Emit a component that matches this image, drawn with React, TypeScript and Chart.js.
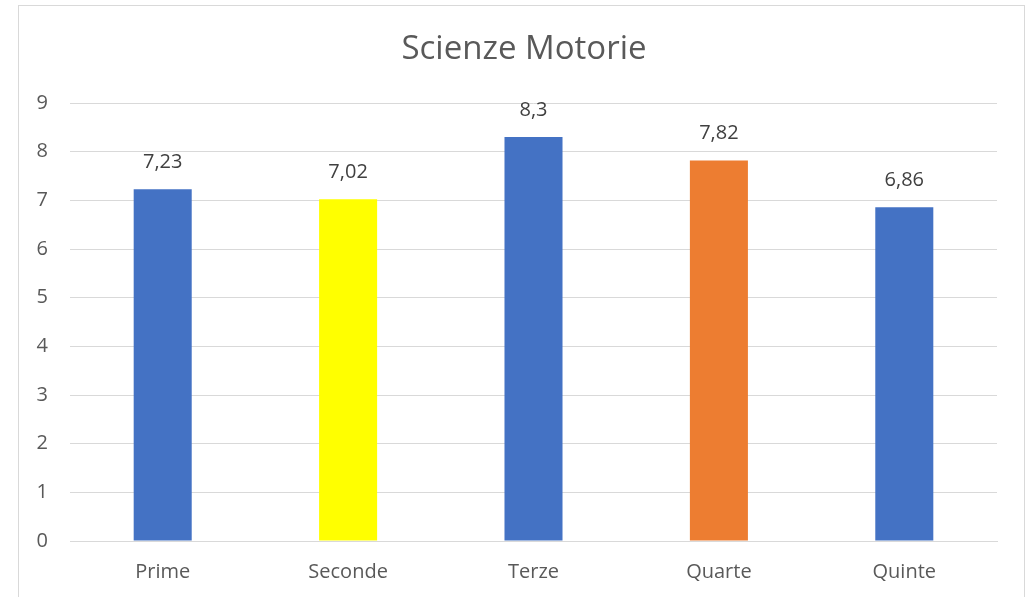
import React, { useEffect, useRef } from "react";
import { Chart, registerables } from "chart.js";

Chart.register(...registerables);

const categories = ["Prime", "Seconde", "Terze", "Quarte", "Quinte"];
const values = [7.23, 7.02, 8.3, 7.82, 6.86];
const barColors = ["#4472C4", "#FFFF00", "#4472C4", "#ED7D31", "#4472C4"];
const titleText = "Scienze Motorie";
const FONT = "'Open Sans', sans-serif";

const dataLabelPlugin = {
  id: "dataLabels",
  afterDatasetsDraw(chart: any) {
    const ctx = chart.ctx;
    const meta = chart.getDatasetMeta(0);
    ctx.save();
    ctx.font = `20px ${FONT}`;
    ctx.fillStyle = "#404040";
    ctx.textAlign = "center";
    ctx.textBaseline = "middle";
    meta.data.forEach((bar: any, i: number) => {
      const v = chart.data.datasets[0].data[i] as number;
      const txt = String(v).replace(".", ",");
      ctx.fillText(txt, bar.x, bar.y - 27);
    });
    ctx.restore();
  },
};

// Title centred on the chart frame (as in the original office chart)
const frameTitlePlugin = {
  id: "frameTitle",
  afterDraw(chart: any) {
    const ctx = chart.ctx;
    const a = chart.chartArea;
    ctx.save();
    ctx.font = `33px ${FONT}`;
    ctx.fillStyle = "#595959";
    ctx.textAlign = "center";
    ctx.textBaseline = "middle";
    ctx.fillText(titleText, (a.left + a.right) / 2 - 9.5, a.top - 53);
    ctx.restore();
  },
};

export default function App() {
  const ref = useRef<HTMLCanvasElement>(null);
  useEffect(() => {
    document.body.style.margin = "0";
    const chart = new Chart(ref.current!, {
      type: "bar",
      data: {
        labels: categories,
        datasets: [
          {
            data: values,
            backgroundColor: barColors,
            borderWidth: 0,
            barPercentage: 0.313,
            categoryPercentage: 1,
          },
        ],
      },
      options: {
        animation: false,
        responsive: false,
        maintainAspectRatio: false,
        layout: { padding: { left: 20, right: 34, top: 103, bottom: 0 } },
        plugins: {
          legend: { display: false },
          tooltip: { enabled: false },
          title: { display: false },
        },
        scales: {
          x: {
            grid: { display: false, drawTicks: false },
            border: { display: true, color: "#d9d9d9", width: 1 },
            ticks: {
              color: "#595959",
              font: { family: FONT, size: 20 },
              padding: 19,
            },
            afterFit: (s: any) => {
              s.height = 56;
            },
          },
          y: {
            min: 0,
            max: 9,
            ticks: {
              stepSize: 1,
              color: "#595959",
              font: { family: FONT, size: 20 },
              padding: 22,
            },
            grid: { color: "#d9d9d9", lineWidth: 1, drawTicks: false },
            border: { display: false },
            afterFit: (s: any) => {
              s.width = 50;
            },
          },
        },
      },
      plugins: [dataLabelPlugin, frameTitlePlugin],
    });
    return () => chart.destroy();
  }, []);
  return (
    <div style={{ position: "relative", width: 1031, height: 597, overflow: "hidden", background: "#fff" }}>
      <div
        style={{
          position: "absolute",
          left: 18,
          top: 5,
          width: 1007,
          height: 640,
          border: "1px solid #d9d9d9",
          boxSizing: "border-box",
        }}
      />
      <canvas ref={ref} width={1031} height={597} style={{ position: "absolute", left: 0, top: 0 }} />
    </div>
  );
}
